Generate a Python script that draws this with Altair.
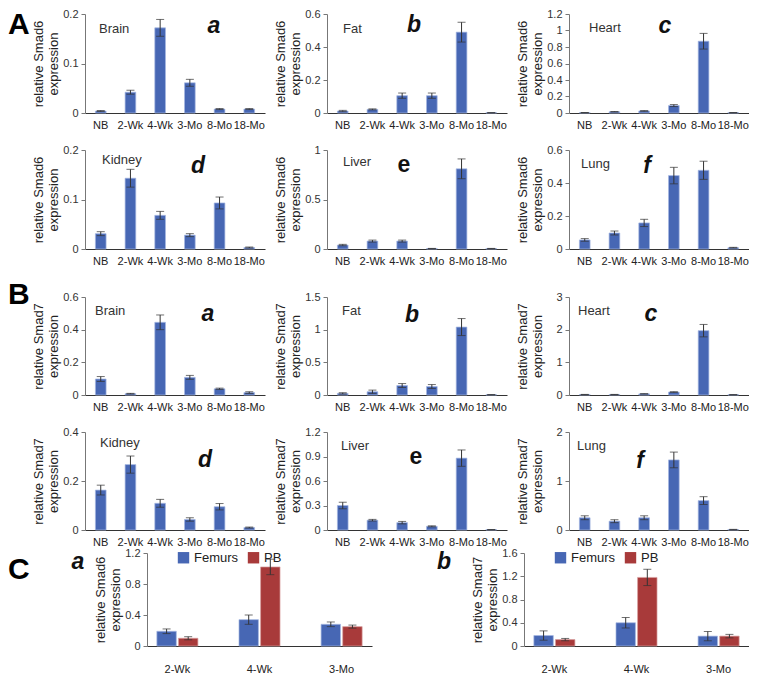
import altair as alt
import pandas as pd

FONT = "Liberation Sans"
BLUE = "#4767B4"
BLUE_EDGE = "#A6B8E2"
RED = "#A83A3A"
RED_EDGE = "#D9A0A0"

ages = ["NB", "2-Wk", "4-Wk", "3-Mo", "8-Mo", "18-Mo"]

# ---- Smad6 (panel A) ----
smad6_brain = [0.004, 0.042, 0.172, 0.061, 0.008, 0.008]
smad6_brain_err = [0.001, 0.004, 0.017, 0.007, 0.001, 0.001]
smad6_fat = [0.012, 0.022, 0.105, 0.105, 0.49, 0.002]
smad6_fat_err = [0.004, 0.003, 0.016, 0.016, 0.06, 0.0]
smad6_heart = [0.005, 0.015, 0.025, 0.09, 0.87, 0.005]
smad6_heart_err = [0.001, 0.003, 0.004, 0.012, 0.095, 0.001]
smad6_kidney = [0.031, 0.143, 0.068, 0.028, 0.093, 0.003]
smad6_kidney_err = [0.004, 0.018, 0.008, 0.003, 0.012, 0.001]
smad6_liver = [0.04, 0.08, 0.08, 0.005, 0.81, 0.005]
smad6_liver_err = [0.007, 0.01, 0.01, 0.001, 0.1, 0.001]
smad6_lung = [0.055, 0.097, 0.158, 0.445, 0.477, 0.008]
smad6_lung_err = [0.008, 0.012, 0.022, 0.05, 0.055, 0.002]

# ---- Smad7 (panel B) ----
smad7_brain = [0.098, 0.008, 0.445, 0.108, 0.038, 0.015]
smad7_brain_err = [0.015, 0.002, 0.045, 0.012, 0.004, 0.005]
smad7_fat = [0.025, 0.05, 0.145, 0.13, 1.04, 0.005]
smad7_fat_err = [0.01, 0.025, 0.03, 0.03, 0.13, 0.001]
smad7_heart = [0.015, 0.015, 0.035, 0.09, 1.97, 0.01]
smad7_heart_err = [0.003, 0.003, 0.005, 0.01, 0.19, 0.002]
smad7_kidney = [0.163, 0.267, 0.109, 0.043, 0.095, 0.01]
smad7_kidney_err = [0.02, 0.035, 0.016, 0.007, 0.013, 0.002]
smad7_liver = [0.30, 0.12, 0.09, 0.045, 0.88, 0.005]
smad7_liver_err = [0.04, 0.01, 0.015, 0.006, 0.1, 0.001]
smad7_lung = [0.25, 0.18, 0.25, 1.43, 0.60, 0.01]
smad7_lung_err = [0.04, 0.03, 0.04, 0.16, 0.08, 0.003]

# ---- Panel C ----
c_groups = ["2-Wk", "4-Wk", "3-Mo"]
c_series = ["Femurs", "PB"]
c_smad6_femurs = [0.19, 0.34, 0.28]
c_smad6_femurs_err = [0.03, 0.06, 0.03]
c_smad6_pb = [0.10, 1.02, 0.25]
c_smad6_pb_err = [0.02, 0.10, 0.02]
c_smad7_femurs = [0.18, 0.40, 0.17]
c_smad7_femurs_err = [0.08, 0.09, 0.08]
c_smad7_pb = [0.11, 1.18, 0.17]
c_smad7_pb_err = [0.02, 0.14, 0.03]

W = 180
CW = 225
CH = 93
DUMMY = pd.DataFrame({"k": [0]})


def text_layer(txt, x, y, size=13, weight="normal", style="normal", align="left",
               baseline="middle", opacity=1.0, color="#333"):
    return alt.Chart(DUMMY).mark_text(
        text=txt, font=FONT, fontSize=size, fontWeight=weight, fontStyle=style,
        align=align, baseline=baseline, color=color, opacity=opacity,
    ).encode(x=alt.value(x), y=alt.value(y))


def y_axis(gene, ticks, height):
    return alt.Axis(
        values=ticks, format="~g", title=[f"relative {gene}", "expression"],
        grid=False, tickSize=4, tickColor="#777", domainColor="#777",
        labelFontSize=11, labelColor="#333", labelPadding=3, labelFont=FONT,
        labelOverlap=False,
        titleFontSize=13, titleFontWeight="normal", titleColor="#222", titleFont=FONT,
        titleX=-40, titleY=height / 2, titleBaseline="bottom", titleLineHeight=15,
        titleAngle=270, titleAlign="center",
    )


def x_axis(pad):
    return alt.Axis(labelAngle=0, ticks=False, tickSize=0, labelPadding=pad,
                    domainColor="#333", labelFontSize=11, labelColor="#222",
                    labelFont=FONT)


def panel(gene, means, errs, ticks, tissue, tpos, letter, lpos, italic=True,
          big=None, big_visible=True, height=99):
    df = pd.DataFrame({"age": ages, "val": means, "err": errs})
    df["lo"] = (df["val"] - df["err"]).clip(lower=0)
    df["hi"] = df["val"] + df["err"]
    xenc = alt.X("age:N", sort=ages, title=None,
                 scale=alt.Scale(paddingInner=0.64, paddingOuter=0.35),
                 axis=x_axis(6))
    yscale = alt.Scale(domain=[0, ticks[-1]], nice=False, zero=True)
    yax = y_axis(gene, ticks, height)
    base = alt.Chart(df)
    bars = base.mark_bar(color=BLUE, stroke=BLUE_EDGE, strokeWidth=0.7).encode(
        x=xenc, y=alt.Y("val:Q", scale=yscale, axis=yax))
    rule = base.mark_rule(color="#333", strokeWidth=1).encode(
        x=xenc, y=alt.Y("lo:Q", scale=yscale, axis=yax), y2="hi:Q")
    cap_lo = base.mark_tick(color="#333", size=8, thickness=1).encode(
        x=xenc, y=alt.Y("lo:Q", scale=yscale, axis=yax))
    cap_hi = base.mark_tick(color="#333", size=8, thickness=1).encode(
        x=xenc, y=alt.Y("hi:Q", scale=yscale, axis=yax))
    layers = [bars, rule, cap_lo, cap_hi,
              text_layer(tissue, tpos[0], tpos[1]),
              text_layer(letter, lpos[0], lpos[1], size=23, weight="bold",
                         style="italic" if italic else "normal", align="center",
                         color="#111")]
    if big is not None:
        layers.append(text_layer(big[0], -77, big[1], size=30, weight="bold",
                                 baseline="alphabetic", color="#000",
                                 opacity=1.0 if big_visible else 0.0))
    return alt.layer(*layers).properties(width=W, height=height)


def cpanel(gene, fem, fem_err, pb, pb_err, ticks, letter=None, lx=0):
    df = pd.DataFrame({
        "grp": c_groups * 2,
        "series": ["Femurs"] * 3 + ["PB"] * 3,
        "val": fem + pb,
        "err": fem_err + pb_err,
    })
    df["lo"] = (df["val"] - df["err"]).clip(lower=0)
    df["hi"] = df["val"] + df["err"]
    xenc = alt.X("grp:N", sort=c_groups, title=None,
                 scale=alt.Scale(paddingInner=0.5, paddingOuter=0.12),
                 axis=x_axis(17))
    xo = alt.XOffset("series:N", sort=c_series, scale=alt.Scale(paddingInner=0.1))
    yscale = alt.Scale(domain=[0, ticks[-1]], nice=False, zero=True)
    yax = y_axis(gene, ticks, CH)
    color = alt.Color(
        "series:N", sort=c_series,
        scale=alt.Scale(domain=c_series, range=[BLUE, RED]),
        legend=alt.Legend(title=None, orient="none", legendX=30, legendY=-2,
                          direction="horizontal", symbolType="square",
                          symbolSize=130, symbolStrokeWidth=0, labelFontSize=13,
                          labelFont=FONT, labelColor="#222", columnPadding=8,
                          labelOffset=4),
    )
    base = alt.Chart(df)
    bars = base.mark_bar(strokeWidth=0.7).encode(
        x=xenc, xOffset=xo,
        y=alt.Y("val:Q", scale=yscale, axis=yax),
        color=color,
        stroke=alt.Stroke("series:N", scale=alt.Scale(domain=c_series, range=[BLUE_EDGE, RED_EDGE]), legend=None),
    )
    rule = base.mark_rule(color="#333", strokeWidth=1).encode(
        x=xenc, xOffset=xo, y=alt.Y("lo:Q", scale=yscale, axis=yax), y2="hi:Q")
    cap_lo = base.mark_tick(color="#333", size=8, thickness=1).encode(
        x=xenc, xOffset=xo, y=alt.Y("lo:Q", scale=yscale, axis=yax))
    cap_hi = base.mark_tick(color="#333", size=8, thickness=1).encode(
        x=xenc, xOffset=xo, y=alt.Y("hi:Q", scale=yscale, axis=yax))
    layers = [bars, rule, cap_lo, cap_hi]
    if letter is not None:
        layers.append(text_layer(letter, lx, 9, size=23, weight="bold", style="italic",
                                 align="center", color="#111"))
    return alt.layer(*layers).properties(width=CW, height=CH)


a1 = panel("Smad6", smad6_brain, smad6_brain_err, [0, 0.1, 0.2], "Brain", (14, 15), "a", (129, 12), big=("A", 20))
a2 = panel("Smad6", smad6_fat, smad6_fat_err, [0, 0.2, 0.4, 0.6], "Fat", (16, 15), "b", (87, 11))
a3 = panel("Smad6", smad6_heart, smad6_heart_err, [0, 0.2, 0.4, 0.6, 0.8, 1, 1.2], "Heart", (20, 14), "c", (96, 12))
a4 = panel("Smad6", smad6_kidney, smad6_kidney_err, [0, 0.1, 0.2], "Kidney", (17, 10), "d", (113, 16), big=("A", 20), big_visible=False)
a5 = panel("Smad6", smad6_liver, smad6_liver_err, [0, 0.5, 1], "Liver", (16, 12), "e", (77, 15), italic=False)
a6 = panel("Smad6", smad6_lung, smad6_lung_err, [0, 0.2, 0.4, 0.6], "Lung", (12, 14), "f", (78, 16))

b1 = panel("Smad7", smad7_brain, smad7_brain_err, [0, 0.2, 0.4, 0.6], "Brain", (10, 14), "a", (123, 17), big=("B", 7), height=98)
b2 = panel("Smad7", smad7_fat, smad7_fat_err, [0, 0.5, 1, 1.5], "Fat", (15, 14), "b", (85, 18), height=98)
b3 = panel("Smad7", smad7_heart, smad7_heart_err, [0, 1, 2, 3], "Heart", (9, 14), "c", (82, 17), height=98)
b4 = panel("Smad7", smad7_kidney, smad7_kidney_err, [0, 0.2, 0.4], "Kidney", (15, 11), "d", (120, 28), big=("A", 20), big_visible=False, height=98)
b5 = panel("Smad7", smad7_liver, smad7_liver_err, [0, 0.3, 0.6, 0.9, 1.2], "Liver", (14, 14), "e", (89, 25), italic=False, height=98)
b6 = panel("Smad7", smad7_lung, smad7_lung_err, [0, 1, 2], "Lung", (8, 14), "f", (71, 29), height=98)

# spacer column of row C carries the big "C" and the italic "a"
c_spacer = alt.layer(
    text_layer("C", -77, 26, size=30, weight="bold", baseline="alphabetic", color="#000"),
    text_layer("a", -7, 9, size=23, weight="bold", style="italic", align="center", color="#111"),
).properties(width=1, height=CH)
c1 = cpanel("Smad6", c_smad6_femurs, c_smad6_femurs_err, c_smad6_pb, c_smad6_pb_err, [0, 0.4, 0.8, 1.2])
c2 = cpanel("Smad7", c_smad7_femurs, c_smad7_femurs_err, c_smad7_pb, c_smad7_pb_err, [0, 0.4, 0.8, 1.2, 1.6], "b", -80)

rowA1 = alt.hconcat(a1, a2, a3, spacing=62, bounds="flush")
rowA2 = alt.hconcat(a4, a5, a6, spacing=62, bounds="flush")
rowB1 = alt.hconcat(b1, b2, b3, spacing=62, bounds="flush")
rowB2 = alt.hconcat(b4, b5, b6, spacing=62, bounds="flush")
c_inner = alt.hconcat(c1, c2, spacing=152, bounds="flush").resolve_scale(color="independent", stroke="independent")
rowC = alt.hconcat(c_spacer, c_inner, spacing=8)

upper = alt.concat(rowA1, rowA2, rowB1, rowB2, columns=1, spacing=14)
chart = alt.concat(upper, rowC, columns=1, spacing=0).properties(padding=0).configure_view(stroke=None)

chart.save("out.html", embed_options={"renderer": "svg", "actions": False})
